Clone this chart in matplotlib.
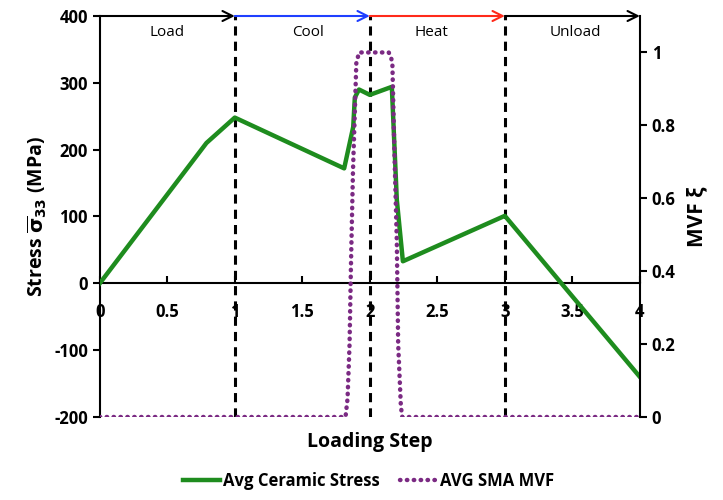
import matplotlib
matplotlib.use("Agg")
import matplotlib.pyplot as plt

plt.rcParams['font.family'] = ['Open Sans', 'DejaVu Sans']
plt.rcParams['font.weight'] = 'bold'
plt.rcParams['axes.labelweight'] = 'bold'
plt.rcParams['axes.unicode_minus'] = False

# average ceramic stress (MPa) vs loading step
stress_x = [0, 0.79, 1.0, 1.81, 1.877, 1.889, 1.92, 2.0, 2.163, 2.2, 2.245, 3.0, 4.0]
stress_y = [0, 210, 248, 172, 234, 278, 290, 282, 294, 125, 33, 101, -140]

# average SMA martensitic volume fraction
mvf_x = [0, 1.82, 1.835, 1.85, 1.86, 1.875, 1.89, 1.9, 1.92, 2.14, 2.155, 2.167,
         2.18, 2.2, 2.21, 2.23, 2.24, 4.0]
mvf_y = [0, 0, 0.05, 0.2, 0.41, 0.67, 0.85, 0.97, 1.0, 1.0, 0.99, 0.97,
         0.76, 0.48, 0.2, 0.03, 0, 0]

phases = ["Load", "Cool", "Heat", "Unload"]
phase_x = [0.5, 1.54, 2.46, 3.52]
phase_colors = ["black", "#1f3fff", "#ff2a1a", "black"]
step_ticks = [0, 0.5, 1, 1.5, 2, 2.5, 3, 3.5, 4]
stress_ticks = [-200, -100, 0, 100, 200, 300, 400]
mvf_ticks = [0, 0.2, 0.4, 0.6, 0.8, 1]

green = "#1e8c1e"
purple = "#7b2a83"

fig = plt.figure(figsize=(7.23, 5.0), dpi=100)
ax = fig.add_axes([0.138, 0.166, 0.747, 0.802])
ax2 = ax.twinx()

for xv in [1, 2, 3]:
    ax.plot([xv, xv], [-200, 400], color="black", ls=(0, (3, 2)), lw=2.2, zorder=2)

l1, = ax.plot(stress_x, stress_y, color=green, lw=3.2, zorder=4, label="Avg Ceramic Stress")
l2, = ax2.plot(mvf_x, mvf_y, color=purple, lw=3.2, ls=(0, (0.1, 1.45)), zorder=3,
               label="AVG SMA MVF", dash_capstyle='round')

ax.set_xlim(0, 4)
ax.set_ylim(-200, 400)
ax2.set_ylim(0, 1.1)
ax.set_xticks(step_ticks)
ax.set_xticklabels(["0", "0.5", "1", "1.5", "2", "2.5", "3", "3.5", "4"])
ax.set_yticks(stress_ticks)
ax2.set_yticks(mvf_ticks)
ax2.set_yticklabels(["0", "0.2", "0.4", "0.6", "0.8", "1"])

ax.spines['bottom'].set_position(('data', 0))
ax.spines['bottom'].set_linewidth(1.5)
ax.spines['left'].set_linewidth(1.5)
for s in ['top', 'right']:
    ax.spines[s].set_visible(False)
for s in ['top', 'left', 'bottom']:
    ax2.spines[s].set_visible(False)
ax2.spines['right'].set_linewidth(1.5)

ax.tick_params(axis='x', direction='in', length=5, width=1.5, pad=14, labelsize=12)
ax.tick_params(axis='y', direction='out', length=5, width=1.5, labelsize=12)
ax2.tick_params(axis='y', direction='out', length=5, width=1.5, labelsize=12)

# arrows along the top for each phase
for i in range(4):
    ax.annotate("", xy=(i + 1, 400), xytext=(i, 400),
                arrowprops=dict(arrowstyle="->", color=phase_colors[i], lw=1.5,
                                shrinkA=0, shrinkB=0, mutation_scale=18),
                annotation_clip=False)
    ax.text(phase_x[i], 376, phases[i], ha="center", va="center", fontsize=11, fontweight="medium")

ax.set_ylabel(r"Stress $\mathbf{\overline{\sigma}_{33}}$ (MPa)", fontsize=14, labelpad=4)
ax2.set_ylabel("MVF ξ", fontsize=15, labelpad=8)
ax.text(2, -237, "Loading Step", ha="center", va="center", fontsize=14, fontweight="bold")

fig.legend([l1, l2], ["Avg Ceramic Stress", "AVG SMA MVF"], loc="lower center",
           bbox_to_anchor=(0.51, -0.01), ncol=2, frameon=False, fontsize=12,
           handlelength=2.2, columnspacing=1.2, handletextpad=0.2)

fig.savefig("out.png", dpi=100)
